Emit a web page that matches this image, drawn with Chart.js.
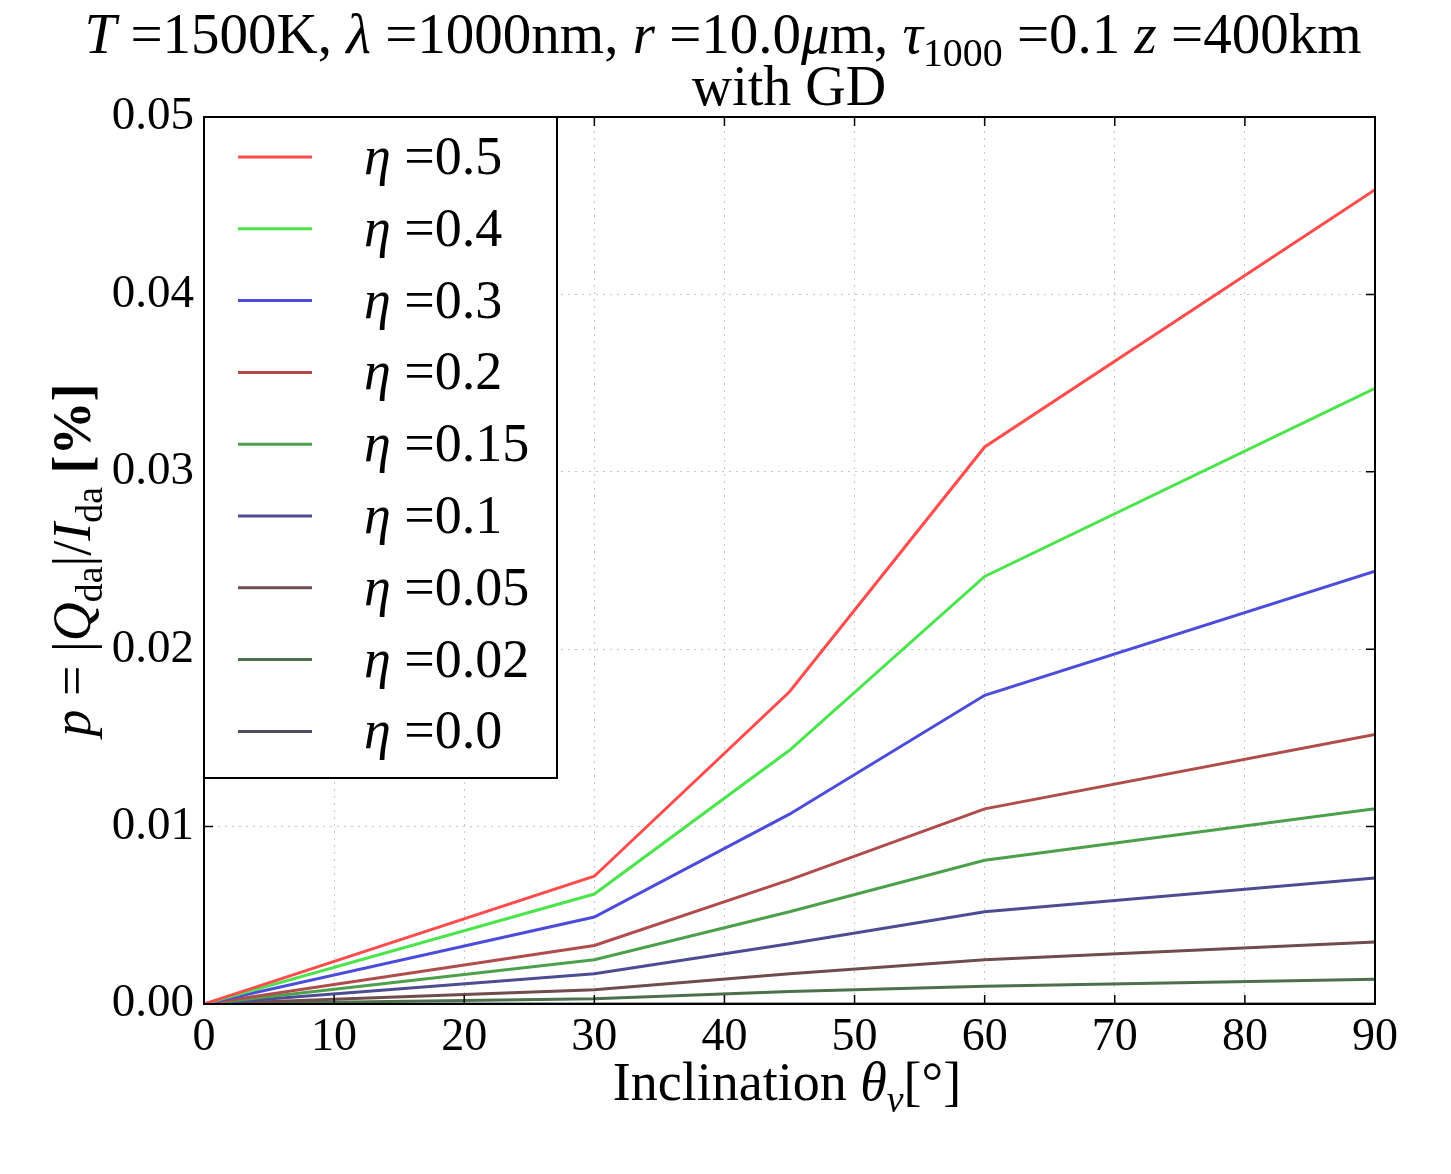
<!DOCTYPE html>
<html>
<head>
<meta charset="utf-8">
<script src="https://cdn.jsdelivr.net/npm/chart.js@4.4.1/dist/chart.umd.min.js"></script>
<style>
  body { margin: 0; background: #fff; }
  #wrap { width: 1451px; height: 1174px; }
</style>
</head>
<body>
<div id="wrap"><canvas id="myChart" width="1451" height="1174"></canvas></div>
<script>
// inclination angles (deg) where the model was evaluated
const inclination = [0, 30, 45, 60, 90];
const etaLabels = ['0.5', '0.4', '0.3', '0.2', '0.15', '0.1', '0.05', '0.02', '0.0'];

// degree of polarization p [%] per eta
const p_eta050 = [0, 0.0072, 0.0176, 0.0314, 0.0459];
const p_eta040 = [0, 0.0062, 0.0143, 0.0241, 0.0347];
const p_eta030 = [0, 0.0049, 0.0107, 0.0174, 0.0244];
const p_eta020 = [0, 0.0033, 0.0070, 0.0110, 0.0152];
const p_eta015 = [0, 0.0025, 0.0052, 0.0081, 0.0110];
const p_eta010 = [0, 0.0017, 0.0034, 0.0052, 0.0071];
const p_eta005 = [0, 0.0008, 0.0017, 0.0025, 0.0035];
const p_eta002 = [0, 0.0003, 0.0007, 0.0010, 0.0014];
const p_eta000 = [0, 0, 0, 0, 0];

const xTicks = [0, 10, 20, 30, 40, 50, 60, 70, 80, 90];
const yTicks = [0, 0.01, 0.02, 0.03, 0.04, 0.05];

const series = [p_eta050, p_eta040, p_eta030, p_eta020, p_eta015, p_eta010, p_eta005, p_eta002, p_eta000];
const colors = ['#ff4d4d', '#4ce44c', '#4c4cdc', '#b04c4c', '#4ca04c', '#4c4c94', '#704c4c', '#4c704c', '#4c4c64'];

const FONT = '"Liberation Serif", "DejaVu Serif", serif';

// draw a run of mixed roman / italic / subscript text
function runsWidth(c, runs, size) {
  let w = 0;
  runs.forEach(r => {
    const s = r.sub ? size * 0.7 : size;
    c.font = (r.it ? 'italic ' : '') + (r.b ? 'bold ' : '') + s + 'px ' + FONT;
    w += c.measureText(r.t).width;
  });
  return w;
}
function drawRuns(c, runs, x, y, size, align) {
  const w = runsWidth(c, runs, size);
  let cx = align === 'center' ? x - w / 2 : x;
  c.textBaseline = 'alphabetic';
  c.textAlign = 'left';
  runs.forEach(r => {
    const s = r.sub ? size * 0.7 : size;
    c.font = (r.it ? 'italic ' : '') + (r.b ? 'bold ' : '') + s + 'px ' + FONT;
    c.fillText(r.t, cx, r.sub ? y + size * 0.22 : y);
    cx += c.measureText(r.t).width;
  });
}

const titleRuns = [
  {t: 'T', it: true}, {t: ' =1500K, '}, {t: 'λ', it: true}, {t: ' =1000nm, '},
  {t: 'r', it: true}, {t: ' =10.0'}, {t: 'μ', it: true}, {t: 'm, '},
  {t: 'τ', it: true}, {t: '1000', sub: true}, {t: ' =0.1 '}, {t: 'z', it: true}, {t: ' =400km'}
];
const xLabelRuns = [{t: 'Inclination '}, {t: 'θ', it: true}, {t: 'v', it: true, sub: true}, {t: '[°]'}];
const yLabelRuns = [
  {t: 'p', it: true}, {t: ' = |'}, {t: 'Q', it: true}, {t: 'da', sub: true}, {t: '|/'},
  {t: 'I', it: true}, {t: 'da', sub: true}, {t: ' [%]', b: true}
];

const decorPlugin = {
  id: 'decor',
  afterDatasetsDraw(chart) {
    const c = chart.ctx;
    const a = chart.chartArea;
    const xs = chart.scales.x, ys = chart.scales.y;
    c.save();
    // inward ticks on all four sides
    c.strokeStyle = '#000';
    c.lineWidth = 1.5;
    xTicks.forEach(v => {
      const px = xs.getPixelForValue(v);
      c.beginPath();
      c.moveTo(px, a.bottom); c.lineTo(px, a.bottom - 9);
      c.moveTo(px, a.top); c.lineTo(px, a.top + 9);
      c.stroke();
    });
    yTicks.forEach(v => {
      const py = ys.getPixelForValue(v);
      c.beginPath();
      c.moveTo(a.left, py); c.lineTo(a.left + 9, py);
      c.moveTo(a.right, py); c.lineTo(a.right - 9, py);
      c.stroke();
    });
    // frame
    c.lineWidth = 2;
    c.strokeRect(a.left, a.top, a.right - a.left, a.bottom - a.top);

    // legend box in upper left
    const lx = a.left, ly = a.top, lw = 353, lh = 661;
    c.fillStyle = '#fff';
    c.fillRect(lx, ly, lw, lh);
    c.strokeRect(lx, ly, lw, lh);
    chart.data.datasets.forEach((ds, i) => {
      const yy = ly + 40 + i * 71.8;
      c.strokeStyle = ds.borderColor;
      c.lineWidth = 3;
      c.beginPath();
      c.moveTo(lx + 34, yy); c.lineTo(lx + 108, yy);
      c.stroke();
      c.fillStyle = '#000';
      drawRuns(c, [{t: 'η', it: true}, {t: ' =' + etaLabels[i]}], lx + 160, yy + 17, 54, 'left');
    });

    // titles
    c.fillStyle = '#000';
    drawRuns(c, titleRuns, 723, 53, 57, 'center');
    c.font = '56px ' + FONT;
    c.textAlign = 'center';
    c.fillText('with GD', 789, 105);
    drawRuns(c, xLabelRuns, 787, 1100, 54, 'center');
    c.translate(90, 560);
    c.rotate(-Math.PI / 2);
    drawRuns(c, yLabelRuns, 0, 0, 54, 'center');
    c.restore();
  }
};

const ctx = document.getElementById('myChart');

const data = {
  datasets: series.map((vals, i) => ({
    label: 'η =' + etaLabels[i],
    data: inclination.map((x, j) => ({x: x, y: vals[j]})),
    borderColor: colors[i],
    backgroundColor: colors[i],
    borderWidth: 3,
    pointRadius: 0,
    tension: 0,
    fill: false
  }))
};

const config = {
  type: 'line',
  data: data,
  options: {
    responsive: false,
    animation: false,
    layout: { padding: { left: 0, top: 117, right: 76, bottom: 0 } },
    plugins: {
      legend: { display: false },
      title: { display: false },
      tooltip: { enabled: false }
    },
    scales: {
      x: {
        type: 'linear',
        min: 0, max: 90,
        afterFit: s => { s.height = 170; },
        afterBuildTicks: s => { s.ticks = xTicks.map(v => ({value: v})); },
        ticks: { color: '#000', font: { family: FONT, size: 46 }, padding: 6, maxRotation: 0 },
        grid: { color: 'rgba(0,0,0,0.22)', drawTicks: false },
        border: { display: false, dash: [2, 5] }
      },
      y: {
        min: 0, max: 0.05,
        afterFit: s => { s.width = 204; },
        afterBuildTicks: s => { s.ticks = yTicks.map(v => ({value: v})); },
        ticks: { color: '#000', font: { family: FONT, size: 47 }, padding: 10, callback: v => v.toFixed(2) },
        grid: { color: 'rgba(0,0,0,0.22)', drawTicks: false },
        border: { display: false, dash: [2, 5] }
      }
    }
  },
  plugins: [decorPlugin]
};

const myChart = new Chart(ctx, config);
</script>
</body>
</html>
